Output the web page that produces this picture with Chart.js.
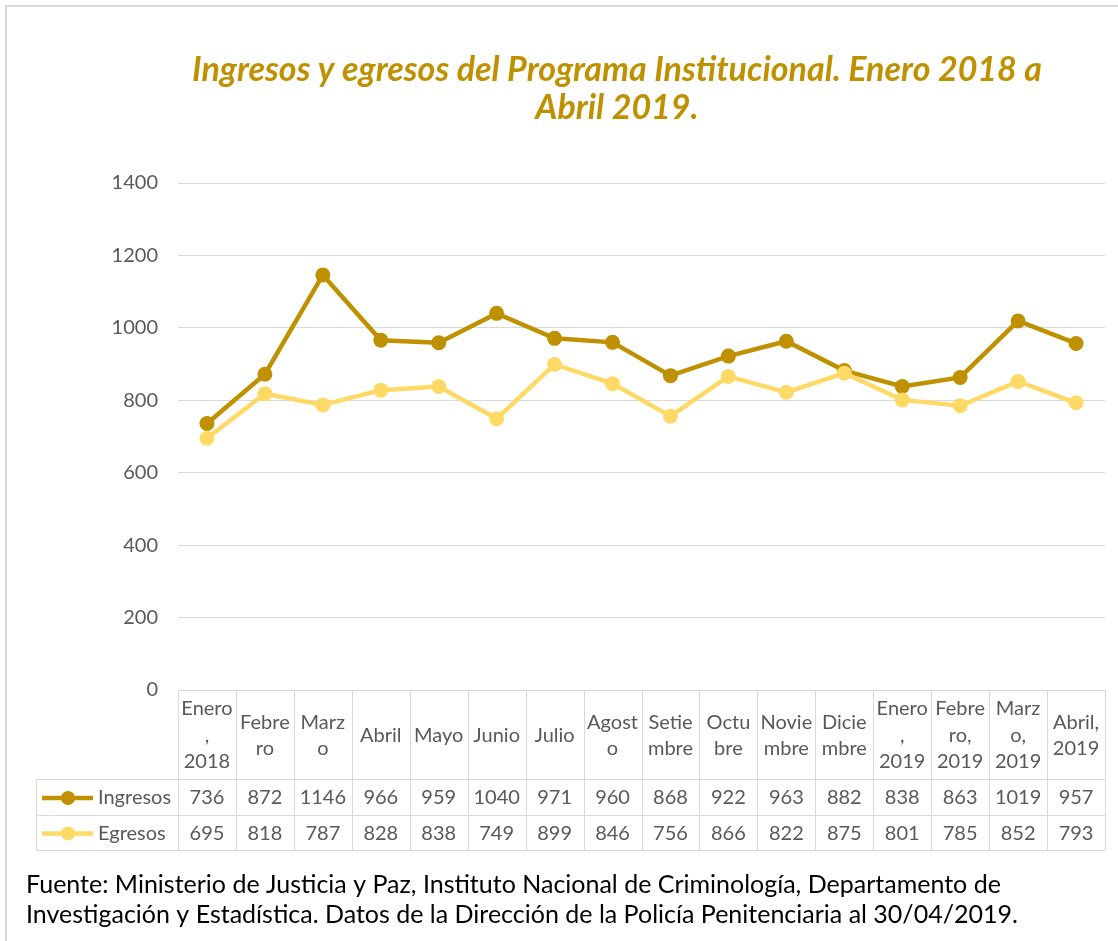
<!DOCTYPE html>
<html>
<head>
<meta charset="utf-8">
<script src="https://cdn.jsdelivr.net/npm/chart.js@4.4.1/dist/chart.umd.min.js"></script>
<style>
  html, body { margin: 0; padding: 0; background: #fff; }
  #wrap { width: 1118px; height: 941px; position: relative; }
</style>
</head>
<body>
<div id="wrap"><canvas id="ingresosChart" width="1118" height="941"></canvas></div>
<script>
// months of the period, as shown in the data table under the chart
var months = ['Enero, 2018', 'Febrero', 'Marzo', 'Abril', 'Mayo', 'Junio', 'Julio', 'Agosto',
  'Setiembre', 'Octubre', 'Noviembre', 'Diciembre', 'Enero, 2019', 'Febrero, 2019', 'Marzo, 2019', 'Abril, 2019'];

// header labels as they are wrapped inside the table cells
var monthLines = [['Enero', ',', '2018'], ['Febre', 'ro'], ['Marz', 'o'], ['Abril'], ['Mayo'], ['Junio'], ['Julio'],
  ['Agost', 'o'], ['Setie', 'mbre'], ['Octu', 'bre'], ['Novie', 'mbre'], ['Dicie', 'mbre'],
  ['Enero', ',', '2019'], ['Febre', 'ro,', '2019'], ['Marz', 'o,', '2019'], ['Abril,', '2019']];

var ingresos = [736, 872, 1146, 966, 959, 1040, 971, 960, 868, 922, 963, 882, 838, 863, 1019, 957];
var egresos = [695, 818, 787, 828, 838, 749, 899, 846, 756, 866, 822, 875, 801, 785, 852, 793];

var yTicks = [0, 200, 400, 600, 800, 1000, 1200, 1400];

var titleLines = ['Ingresos y egresos del Programa Institucional. Enero 2018 a', 'Abril 2019.'];
var sourceLines = ['Fuente: Ministerio de Justicia y Paz, Instituto Nacional de Criminología, Departamento de',
  'Investigación y Estadística. Datos de la Dirección de la Policía Penitenciaria al 30/04/2019.'];

var darkGold = '#BF9000';
var lightGold = '#FFD966';
var textGrey = '#595959';
var lineGrey = '#D9D9D9';
var fontName = 'Lato, "Open Sans", sans-serif';

// draws the frame, title, the data table under the axis and the source note
var extrasPlugin = {
  id: 'extras',
  afterDraw: function (chart) {
    var ctx = chart.ctx;
    var xs = chart.scales.x;
    var area = chart.chartArea;
    var n = months.length;
    var colW = (xs.right - xs.left) / n;
    var tableLeft = 36;
    var headTop = area.bottom;
    var headBottom = 779;
    var row1Bottom = 815;
    var row2Bottom = 850;

    ctx.save();

    // frame (left and top edges)
    ctx.strokeStyle = lineGrey;
    ctx.lineWidth = 2;
    ctx.beginPath();
    ctx.moveTo(6, 941);
    ctx.lineTo(6, 6);
    ctx.lineTo(1118, 6);
    ctx.stroke();

    // title
    ctx.fillStyle = darkGold;
    ctx.font = 'italic bold 34px ' + fontName;
    ctx.textAlign = 'center';
    ctx.textBaseline = 'middle';
    ctx.fillText(titleLines[0], 617, 70);
    ctx.fillText(titleLines[1], 617, 108);

    // table grid
    ctx.strokeStyle = lineGrey;
    ctx.lineWidth = 1;
    ctx.beginPath();
    for (var k = 0; k <= n; k++) {
      var gx = Math.round(xs.left + k * colW) + 0.5;
      ctx.moveTo(gx, headTop);
      ctx.lineTo(gx, row2Bottom);
    }
    ctx.moveTo(tableLeft + 0.5, headBottom);
    ctx.lineTo(tableLeft + 0.5, row2Bottom);
    [headBottom, row1Bottom, row2Bottom].forEach(function (gy) {
      ctx.moveTo(tableLeft, gy + 0.5);
      ctx.lineTo(xs.right, gy + 0.5);
    });
    ctx.stroke();

    // header cells
    ctx.fillStyle = textGrey;
    ctx.font = '20px ' + fontName;
    var lh = 26.5;
    var headMid = (headTop + headBottom) / 2 + 1;
    for (var i = 0; i < n; i++) {
      var cx = xs.getPixelForValue(i);
      var lines = monthLines[i];
      var y0 = headMid - (lines.length - 1) * lh / 2;
      for (var j = 0; j < lines.length; j++) {
        ctx.fillText(lines[j], cx, y0 + j * lh);
      }
    }

    // value rows with legend keys
    var rows = [
      { label: 'Ingresos', color: darkGold, values: ingresos, mid: (headBottom + row1Bottom) / 2 + 1 },
      { label: 'Egresos', color: lightGold, values: egresos, mid: (row1Bottom + row2Bottom) / 2 + 1 }
    ];
    rows.forEach(function (r) {
      ctx.strokeStyle = r.color;
      ctx.lineWidth = 4.5;
      ctx.beginPath();
      ctx.moveTo(42, r.mid);
      ctx.lineTo(93, r.mid);
      ctx.stroke();
      ctx.fillStyle = r.color;
      ctx.beginPath();
      ctx.arc(68, r.mid, 7, 0, Math.PI * 2);
      ctx.fill();

      ctx.fillStyle = textGrey;
      ctx.textAlign = 'left';
      ctx.fillText(r.label, 98, r.mid);
      ctx.textAlign = 'center';
      for (var i = 0; i < n; i++) {
        ctx.fillText(String(r.values[i]), xs.getPixelForValue(i), r.mid);
      }
    });

    // source note
    ctx.fillStyle = '#000000';
    ctx.font = '25px ' + fontName;
    ctx.textAlign = 'left';
    ctx.fillText(sourceLines[0], 26, 885);
    ctx.fillText(sourceLines[1], 26, 915);

    ctx.restore();
  }
};

var ctx = document.getElementById('ingresosChart').getContext('2d');
var myLineChart = new Chart(ctx, {
  type: 'line',
  data: {
    labels: months,
    datasets: [
      {
        label: 'Ingresos', data: ingresos, order: 1,
        borderColor: darkGold, backgroundColor: darkGold,
        borderWidth: 4.5, pointRadius: 7.5, pointBorderWidth: 0, tension: 0
      },
      {
        label: 'Egresos', data: egresos, order: 0,
        borderColor: lightGold, backgroundColor: lightGold,
        borderWidth: 4.5, pointRadius: 7.5, pointBorderWidth: 0, tension: 0
      }
    ]
  },
  options: {
    responsive: false,
    animation: false,
    layout: { padding: { left: 0, top: 183, right: 13, bottom: 251 } },
    plugins: { legend: { display: false }, tooltip: { enabled: false }, title: { display: false } },
    scales: {
      x: { display: false, offset: true },
      y: {
        min: 0, max: 1400,
        afterBuildTicks: function (scale) {
          scale.ticks = yTicks.map(function (v) { return { value: v }; });
        },
        afterFit: function (scale) { scale.width = 178; },
        ticks: {
          color: textGrey, font: { family: fontName, size: 20 }, padding: 20,
          callback: function (value) { return String(value); }
        },
        grid: { color: lineGrey, lineWidth: 1, drawTicks: false },
        border: { display: false }
      }
    }
  },
  plugins: [extrasPlugin]
});
</script>
</body>
</html>
